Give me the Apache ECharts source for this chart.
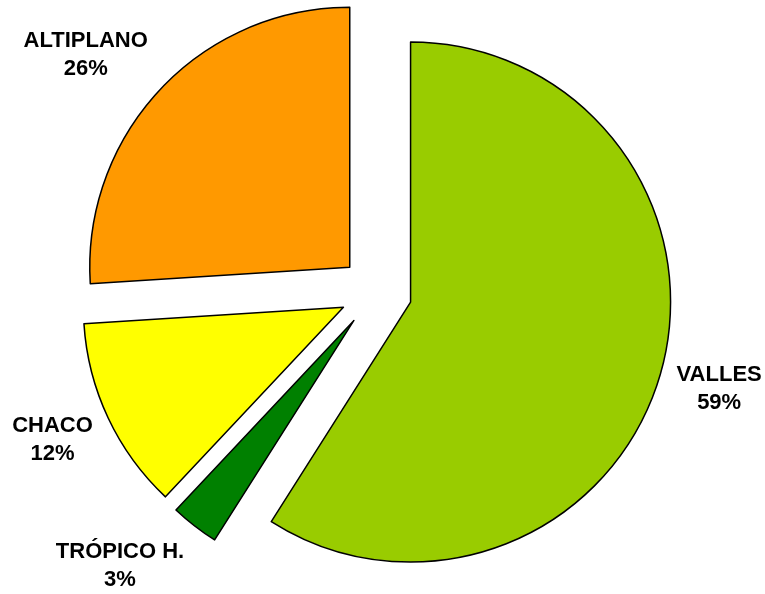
<!DOCTYPE html>
<html>
<head>
<meta charset="utf-8">
<style>
html,body{margin:0;padding:0;background:#fff;}
#chart{width:765px;height:594px;}
</style>
<script src="https://cdn.jsdelivr.net/npm/echarts@6/dist/echarts.min.js"></script>
</head>
<body>
<div id="chart"></div>
<script>
var categories = ['VALLES', 'TRÓPICO H.', 'CHACO', 'ALTIPLANO'];
var values = [59, 3, 12, 26];
var colors = ['#99CC00', '#008000', '#FFFF00', '#FF9900'];

var W = 765, H = 594;
var CX = 376, CY = 292, R = 260, OFF = 36, GAP = 17, KX = 1.7, KY = 1.2;
var FONT_SIZE = 22, LINE_H = 28, FONT_FAMILY = 'Liberation Sans, Arial, sans-serif';

var total = values.reduce(function(a, b){ return a + b; }, 0);
var midAngles = [];
var acc = 0;
for (var i = 0; i < values.length; i++) {
  var a0 = acc / total * 2 * Math.PI;
  acc += values[i];
  var a1 = acc / total * 2 * Math.PI;
  midAngles.push((a0 + a1) / 2);
}
function labelText(i) {
  return [categories[i], Math.round(values[i] / total * 100) + '%'];
}
var mctx = document.createElement('canvas').getContext('2d');
mctx.font = 'bold ' + FONT_SIZE + 'px ' + FONT_FAMILY;
function clamp(v, lo, hi) { return Math.max(lo, Math.min(hi, v)); }

// Excel-like outside-end label placement
var labelGraphics = values.map(function (v, i) {
  var ang = midAngles[i];
  var dx = Math.sin(ang), dy = -Math.cos(ang);
  var lines = labelText(i);
  var w = Math.max.apply(null, lines.map(function (t) { return mctx.measureText(t).width; }));
  var h = lines.length * LINE_H;
  var px = CX + dx * (OFF + R + GAP), py = CY + dy * (OFF + R + GAP);
  var ax = 0.5 - 0.5 * clamp(dx * KX, -1, 1);
  var ay = 0.5 - 0.5 * clamp(dy * KY, -1, 1);
  var left = clamp(px - ax * w, 0, W - w);
  var top = clamp(py - ay * h, 0, H - h + 3);
  return {
    type: 'text',
    x: left + w / 2,
    y: top + h / 2,
    silent: true,
    style: {
      text: lines.join('\n'),
      fill: '#000',
      font: 'bold ' + FONT_SIZE + 'px ' + FONT_FAMILY,
      lineHeight: LINE_H,
      textAlign: 'center',
      textVerticalAlign: 'middle'
    }
  };
});

var chart = echarts.init(document.getElementById('chart'));
chart.setOption({
  animation: false,
  graphic: labelGraphics,
  series: [{
    type: 'pie',
    center: [CX, CY],
    radius: [0, R],
    startAngle: 90,
    clockwise: true,
    selectedMode: 'multiple',
    selectedOffset: OFF,
    emphasis: { disabled: true },
    itemStyle: { borderColor: '#000', borderWidth: 1.5 },
    label: { show: false },
    labelLine: { show: false },
    data: categories.map(function (c, i) {
      return { name: c, value: values[i], selected: true, itemStyle: { color: colors[i] } };
    })
  }]
});
</script>
</body>
</html>
